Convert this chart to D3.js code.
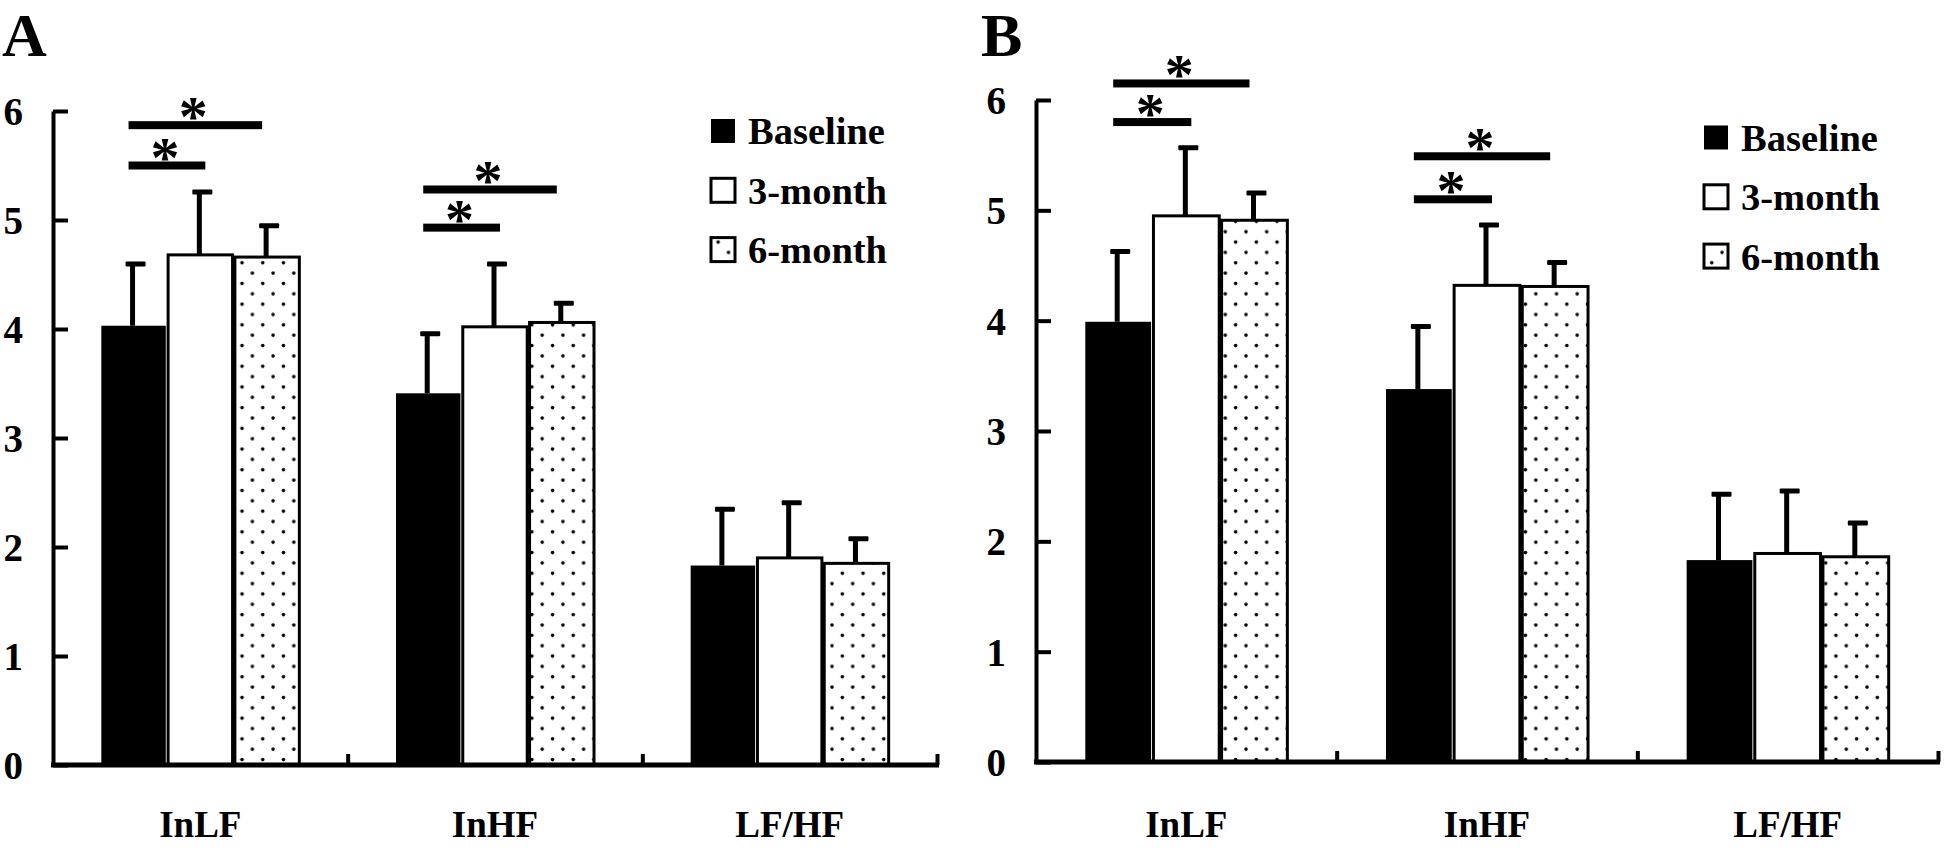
<!DOCTYPE html>
<html><head><meta charset="utf-8">
<script src="https://cdn.jsdelivr.net/npm/d3@7"></script>
<style>
body{margin:0;background:#fff}
svg{display:block}
text{font-family:"Liberation Serif","Times New Roman",serif;font-weight:bold;fill:#000}
</style>
</head><body>
<svg id="c" width="1946" height="848"></svg>
<script>
// ---- data ----
const categories = ["InLF", "InHF", "LF/HF"];
const seriesNames = ["Baseline", "3-month", "6-month"];
const yTicks = [0, 1, 2, 3, 4, 5, 6];

// Panel A means and SDs (upper error bar only)
const aBaseline = [4.03, 3.41, 1.83];
const a3month   = [4.68, 4.02, 1.90];
const a6month   = [4.66, 4.06, 1.85];
const aBaselineSD = [0.58, 0.56, 0.53];
const a3monthSD   = [0.59, 0.59, 0.52];
const a6monthSD   = [0.30, 0.19, 0.24];
// significance brackets: [category, seriesFrom, seriesTo, level]
const aSig = [["InLF", 0, 1, 5.50], ["InLF", 0, 2, 5.87], ["InHF", 0, 1, 4.93], ["InHF", 0, 2, 5.28]];

// Panel B
const bBaseline = [3.99, 3.38, 1.83];
const b3month   = [4.95, 4.32, 1.89];
const b6month   = [4.91, 4.31, 1.86];
const bBaselineSD = [0.65, 0.58, 0.61];
const b3monthSD   = [0.63, 0.56, 0.58];
const b6monthSD   = [0.26, 0.23, 0.32];
const bSig = [["InLF", 0, 1, 5.80], ["InLF", 0, 2, 6.15], ["InHF", 0, 1, 5.10], ["InHF", 0, 2, 5.49]];

// ---- drawing ----
const svg = d3.select("#c");
const defs = svg.append("defs");
const P = 20.7;
const pat = defs.append("pattern").attr("id", "dots").attr("patternUnits", "userSpaceOnUse")
  .attr("width", P).attr("height", P);
pat.append("rect").attr("width", P).attr("height", P).attr("fill", "#fff");
pat.append("circle").attr("cx", 4).attr("cy", 4).attr("r", 1.8).attr("fill", "#000");
pat.append("circle").attr("cx", 4 + P / 2).attr("cy", 4 + P / 2).attr("r", 1.8).attr("fill", "#000");

const fills = ["#000", "#fff", "url(#dots)"];
const catFont = 37;

function drawPanel(cfg) {
  const g = svg.append("g");
  const y = d3.scaleLinear().domain([0, 6]).range([cfg.y0, cfg.y6]);
  const x0 = d3.scaleBand().domain(categories).range([cfg.left, cfg.right])
    .paddingInner(0.328).paddingOuter(0.164);
  const x1 = d3.scaleBand().domain(seriesNames).range([0, x0.bandwidth()]).paddingInner(0.035);
  const bw = x1.bandwidth();

  // bars
  categories.forEach((c, ci) => {
    seriesNames.forEach((s, si) => {
      const m = cfg.means[si][ci];
      const bx = x0(c) + x1(s);
      g.append("rect")
        .attr("x", bx).attr("y", y(m))
        .attr("width", bw).attr("height", y(0) - y(m))
        .attr("fill", fills[si])
        .attr("stroke", "#000").attr("stroke-width", si === 0 ? 0 : 3);
    });
  });

  // error bars
  categories.forEach((c, ci) => {
    seriesNames.forEach((s, si) => {
      const m = cfg.means[si][ci], sd = cfg.sds[si][ci];
      const cx = x0(c) + x1(s) + bw / 2 - 1;
      g.append("line").attr("x1", cx).attr("x2", cx)
        .attr("y1", y(m)).attr("y2", y(m + sd) + 1)
        .attr("stroke", "#000").attr("stroke-width", 5);
      g.append("rect").attr("x", cx - 7).attr("y", y(m + sd) - 1)
        .attr("width", 20).attr("height", 5).attr("rx", 1).attr("fill", "#000");
    });
  });

  // significance brackets
  cfg.sig.forEach(([c, a, b, lvl]) => {
    const xa = x0(c) + x1(seriesNames[a]) + bw / 2 - 5;
    const xb = x0(c) + x1(seriesNames[b]) + bw / 2 + (b === 1 ? 5 : -5);
    g.append("rect").attr("x", xa).attr("y", y(lvl) - 4)
      .attr("width", xb - xa).attr("height", 8).attr("fill", "#000");
    g.append("text").attr("x", (xa + xb) / 2 - 2).attr("y", y(lvl) - 17 + 28)
      .attr("text-anchor", "middle").attr("font-size", 58).text("*");
  });

  // y axis
  const ya = g.append("g").attr("transform", `translate(${cfg.left},0)`)
    .call(d3.axisLeft(y).tickValues(yTicks).tickSize(-15).tickSizeOuter(0).tickPadding(30).tickFormat(d3.format("d")));
  ya.select(".domain").attr("stroke", "#000").attr("stroke-width", 4);
  ya.selectAll(".tick line").attr("stroke", "#000").attr("stroke-width", 4);
  ya.selectAll(".tick text").attr("font-size", 39).attr("font-family", null).attr("dy", "0.35em");

  // x axis (boundary ticks)
  const xb = d3.scaleLinear().domain([0, categories.length]).range([cfg.left, cfg.right]);
  const xa = g.append("g").attr("transform", `translate(0,${cfg.y0})`)
    .call(d3.axisBottom(xb).tickValues(d3.range(1, categories.length + 1)).tickSize(-11).tickSizeOuter(0).tickFormat(""));
  xa.select(".domain").attr("stroke", "#000").attr("stroke-width", 5)
    .attr("d", `M${cfg.left - 2},0H${cfg.right + 2}`);
  xa.selectAll(".tick line").attr("stroke", "#000").attr("stroke-width", 4);

  // category labels (baseline kept clear of the bottom edge)
  const pad = 837 - cfg.y0 - 0.71 * catFont;
  const xl = g.append("g").attr("transform", `translate(0,${cfg.y0})`)
    .call(d3.axisBottom(x0).tickSize(0).tickPadding(pad));
  xl.select(".domain").remove();
  xl.selectAll(".tick text").attr("font-size", catFont).attr("font-family", null);

  // legend
  seriesNames.forEach((s, si) => {
    const ly = cfg.legY + si * 59.3;
    g.append("rect").attr("x", cfg.legX).attr("y", ly - 12)
      .attr("width", 24).attr("height", 24).attr("fill", fills[si])
      .attr("stroke", "#000").attr("stroke-width", si === 0 ? 0 : 3);
    g.append("text").attr("x", cfg.legX + 37).attr("y", ly).attr("dy", "0.35em")
      .attr("font-size", 38.5).text(s);
  });

  // panel letter
  g.append("text").attr("x", cfg.letterX).attr("y", 56).attr("font-size", 62).text(cfg.letter);
}

drawPanel({
  letter: "A", letterX: 2,
  left: 53, right: 937, y0: 765, y6: 111,
  means: [aBaseline, a3month, a6month],
  sds: [aBaselineSD, a3monthSD, a6monthSD],
  sig: aSig, legX: 711, legY: 131
});
drawPanel({
  letter: "B", letterX: 981,
  left: 1036, right: 1938, y0: 762, y6: 100,
  means: [bBaseline, b3month, b6month],
  sds: [bBaselineSD, b3monthSD, b6monthSD],
  sig: bSig, legX: 1704, legY: 137.5
});
</script>
</body></html>
